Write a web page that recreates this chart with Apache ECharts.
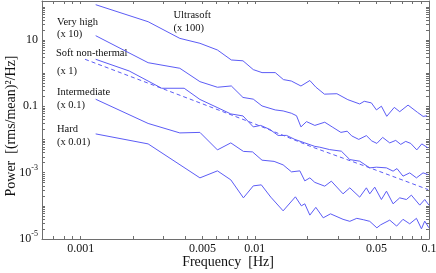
<!DOCTYPE html>
<html><head><meta charset="utf-8">
<script src="https://cdn.jsdelivr.net/npm/echarts@6/dist/echarts.min.js"></script>
<style>html,body{margin:0;padding:0;background:#fff}#c{width:436px;height:273px}</style>
</head><body><div id="c"></div>
<script>
// ---- data (frequency in Hz, power in (rms/mean)^2/Hz, already scaled) ----
const ultrasoftF = [0.00122,0.00244,0.00371,0.00484,0.0061,0.00733,0.00855,0.0098,0.011,0.0131,0.0146,0.0162,0.0184,0.0207,0.0224,0.0251,0.0296,0.0342,0.040,0.0425,0.0467,0.0499,0.0533,0.0572,0.0632,0.0679,0.0758,0.086,0.0925,0.0974];
const ultrasoftP = [116,35.6,11.2,7.95,5.0,2.5,2.36,1.28,1.04,1.04,0.64,0.58,0.41,0.60,0.38,0.233,0.24,0.159,0.118,0.142,0.127,0.078,0.101,0.050,0.093,0.069,0.109,0.0655,0.0496,0.052];

const veryHighF = [0.00122,0.00244,0.00371,0.00484,0.0061,0.00733,0.00855,0.0098,0.011,0.0131,0.01454,0.0162,0.01735,0.0184,0.0198,0.0221,0.0252,0.0278,0.0312,0.0339,0.036,0.0395,0.0437,0.0469,0.0502,0.0542,0.0595,0.0644,0.0688,0.0735,0.0786,0.0851,0.0909,0.0987];
const veryHighP = [13.5,2.07,1.405,0.555,0.376,0.412,0.1854,0.1647,0.1028,0.0779,0.0727,0.062,0.0521,0.024,0.0346,0.0266,0.0332,0.024,0.01637,0.0178,0.01284,0.01007,0.0131,0.00908,0.00763,0.01157,0.0079,0.0094,0.00712,0.00877,0.0076,0.00486,0.00737,0.00558];

const softF = [0.00122,0.0019,0.00292,0.00393,0.00484,0.00607,0.00728,0.00855,0.0098,0.0108,0.0122,0.0136,0.0152,0.01696,0.01936,0.0221,0.0236,0.0269,0.0314,0.0351,0.040,0.0457,0.0499,0.057,0.0622,0.0655,0.0709,0.0775,0.0847,0.0924,0.0987];
const softP = [2.62,1.165,0.351,0.351,0.1613,0.0927,0.059,0.0514,0.024,0.0266,0.0201,0.01329,0.01329,0.01007,0.0079,0.0062,0.00586,0.00496,0.00444,0.00248,0.00222,0.001395,0.001464,0.001395,0.00111,0.001329,0.000785,0.000986,0.000697,0.000986,0.000877];

const modelF = [0.00106,0.00244,0.00484,0.01,0.0207,0.0457,0.0987];
const modelP = [2.62,0.50,0.127,0.0295,0.0063,0.0014,0.00031];

const intermediateF = [0.00122,0.00244,0.00371,0.00484,0.0061,0.00728,0.0086,0.0097,0.011,0.0129,0.01454,0.01624,0.01813,0.01936,0.0207,0.0221,0.0252,0.0275,0.0321,0.0351,0.040,0.0437,0.0457,0.0488,0.0533,0.057,0.0622,0.0679,0.0742,0.0792,0.0885,0.0945,0.0999];
const intermediateP = [0.1637,0.0305,0.0158,0.01637,0.00486,0.0079,0.00438,0.00423,0.00238,0.00219,0.001717,0.001057,0.001133,0.000566,0.000697,0.00051,0.000392,0.000555,0.00023,0.000349,0.000183,0.000349,0.00023,0.000366,0.000155,0.000277,0.000115,0.000174,0.000155,0.00021,0.000105,0.000155,0.000105];

const hardF = [0.00122,0.00244,0.00484,0.0061,0.00728,0.0086,0.0098,0.0109,0.01235,0.01454,0.0171,0.0185,0.01936,0.0207,0.0224,0.0247,0.0272,0.0321,0.0351,0.0385,0.0422,0.0457,0.0502,0.0528,0.0595,0.0652,0.0709,0.0775,0.0847,0.0905,0.0945,0.0999];
const hardP = [0.01475,0.00737,0.000697,0.001133,0.000607,0.000174,0.0004,0.000429,0.000183,7.07e-5,0.000187,1.0e-4,0.000115,5.25e-5,9.0e-5,4.35e-5,5.74e-5,3.92e-5,3.41e-5,4.2e-5,3.79e-5,3.41e-5,2.17e-5,2.68e-5,3.71e-5,2.45e-5,3.92e-5,2.87e-5,4.2e-5,2.03e-5,3.46e-5,2.17e-5];

const xTickValues = [0.001,0.005,0.01,0.05,0.1];
const xTickLabels = ['0.001','0.005','0.01','0.05','0.1'];
const yTickValues = [1e-5,1e-3,0.1,10];
const yTickLabels = ['{b|10}{s|-5}','{b|10}{s|-3}','0.1','10'];

const seriesNames = ['Ultrasoft','Very high','Soft non-thermal','Model','Intermediate','Hard'];
const annotations = [
  ['Very high',57,22.7],['(x 10)',57,34.5],
  ['Soft non-thermal',56,53],['(x 1)',57,71],
  ['Intermediate',57,92],['(x 0.1)',57,105],
  ['Hard',57,129],['(x 0.01)',57,142.5],
  ['Ultrasoft',173.5,15],['(x 100)',173.5,28.3]
];

// minor tick positions (1..9 x decade)
function decadeTicks(lo, hi){
  const out=[];
  for(let e=lo;e<=hi;e++){for(let m=1;m<=9;m++){out.push(+(m*Math.pow(10,e)).toPrecision(3));}}
  return out;
}
const xTicks = decadeTicks(-4,-1).filter(v=>v>=0.0006&&v<=0.1);
const yTicks = decadeTicks(-5,2).filter(v=>v>=1e-5&&v<=150);

const FONT = '"Liberation Serif", "Times New Roman", serif';
const LINE = '#5c5cf6';
const AXC = '#6e6e6e';

function pairs(f,p){return f.map((x,i)=>[x,p[i]]);}

const xFmt = v => { const i = xTickValues.findIndex(t=>Math.abs(t-v)/t<1e-6); return i>=0?xTickLabels[i]:''; };
const yFmt = v => { const i = yTickValues.findIndex(t=>Math.abs(t-v)/t<1e-6); return i>=0?yTickLabels[i]:''; };

const baseX = {type:'log', min:0.0006, max:0.1, logBase:10, splitLine:{show:false}};
const baseY = {type:'log', min:1e-5, max:150, logBase:10, splitLine:{show:false}};

const chart = echarts.init(document.getElementById('c'), null, {renderer:'canvas'});
chart.setOption({
  animation:false,
  backgroundColor:'#fff',
  grid:{left:42,right:7,top:1,bottom:34,containLabel:false,outerBoundsMode:'none'},
  xAxis:[
    Object.assign({}, baseX, {position:'bottom',
      name:'Frequency  [Hz]', nameLocation:'middle', nameGap:16, nameMoveOverlap:false,
      nameTextStyle:{fontFamily:FONT,fontSize:14,color:'#111',padding:[0,15,0,0]},
      axisLine:{show:true,lineStyle:{color:AXC,width:1}},
      axisTick:{show:true,inside:true,length:3,customValues:xTicks,lineStyle:{color:AXC}},
      axisLabel:{show:true,customValues:xTickValues,formatter:xFmt,fontFamily:FONT,fontSize:12,color:'#111',margin:4}}),
    Object.assign({}, baseX, {position:'top',
      axisLine:{show:true,lineStyle:{color:AXC,width:1}},
      axisTick:{show:true,inside:true,length:3,customValues:xTicks,lineStyle:{color:AXC}},
      axisLabel:{show:false}})
  ],
  yAxis:[
    Object.assign({}, baseY, {position:'left',
      name:'Power  [(rms/mean)\u00b2/Hz]', nameLocation:'middle', nameGap:24, nameRotate:90, nameMoveOverlap:false,
      nameTextStyle:{fontFamily:FONT,fontSize:14,color:'#111',padding:[0,12,0,0]},
      axisLine:{show:true,lineStyle:{color:AXC,width:1}},
      axisTick:{show:true,inside:true,length:3,customValues:yTicks,lineStyle:{color:AXC}},
      axisLabel:{show:true,customValues:yTickValues,formatter:yFmt,fontFamily:FONT,fontSize:12,color:'#111',margin:4,
        rich:{b:{fontFamily:FONT,fontSize:12,lineHeight:18,color:'#111'},
              s:{fontFamily:FONT,fontSize:8,lineHeight:7,verticalAlign:'top',color:'#111'}}}}),
    Object.assign({}, baseY, {position:'right',
      axisLine:{show:true,lineStyle:{color:AXC,width:1}},
      axisTick:{show:true,inside:true,length:3,customValues:yTicks,lineStyle:{color:AXC}},
      axisLabel:{show:false}})
  ],
  series:[
    {name:seriesNames[0],data:pairs(ultrasoftF,ultrasoftP)},
    {name:seriesNames[1],data:pairs(veryHighF,veryHighP)},
    {name:seriesNames[2],data:pairs(softF,softP)},
    {name:seriesNames[3],data:pairs(modelF,modelP),dashed:true},
    {name:seriesNames[4],data:pairs(intermediateF,intermediateP)},
    {name:seriesNames[5],data:pairs(hardF,hardP)}
  ].map(s=>({type:'line',name:s.name,data:s.data,xAxisIndex:0,yAxisIndex:0,showSymbol:false,symbol:'none',
      smooth:false,clip:true,
      lineStyle:{color:LINE,width:1,type:s.dashed?[4,3]:'solid'}})),
  graphic:annotations.map(a=>({type:'text',x:a[1],y:a[2],silent:true,
      style:{text:a[0],fill:'#111',font:'10.5px '+FONT,verticalAlign:'middle',align:'left'}}))
});
</script></body></html>
